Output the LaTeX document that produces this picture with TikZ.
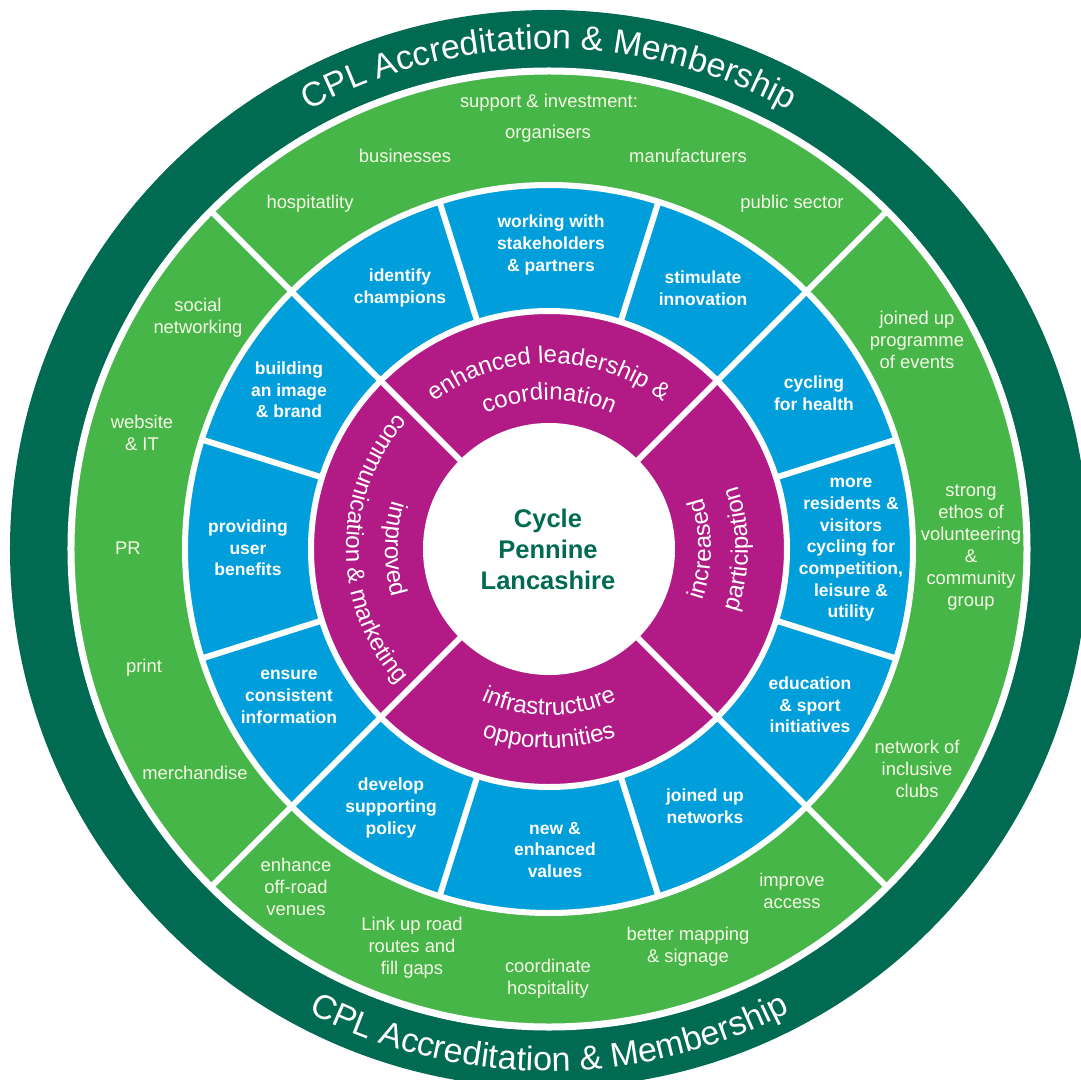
\documentclass[tikz,border=0pt]{standalone}
\usepackage{fontspec}
\setmainfont{Liberation Sans}
\usetikzlibrary{decorations.text}
\definecolor{ringdark}{RGB}{0,106,82}
\definecolor{ringgreen}{RGB}{70,182,73}
\definecolor{ringblue}{RGB}{0,158,219}
\definecolor{ringmag}{RGB}{178,27,134}
\definecolor{greentext}{RGB}{246,248,230}
\begin{document}
\begin{tikzpicture}[x=1pt,y=1pt,
  greenlbl/.style={text=greentext, align=center, inner sep=0pt,
    font=\fontsize{18.4}{22}\selectfont},
  bluelbl/.style={text=white, align=center, inner sep=0pt,
    font=\fontsize{17.5}{21.7}\selectfont\bfseries},
  divider/.style={white, line width=6pt},
  arctext/.style={decorate, decoration={text along path, text align=center, text={#1}}},
]
\useasboundingbox (-549,-530) rectangle (532,549);
\clip (-549,-530) rectangle (532,549);
\fill[white] (-549,-530) rectangle (532,549);

% concentric rings
\fill[ringdark]  (0,0) circle[radius=539pt];
\fill[ringgreen] (0,0) circle[radius=478pt];
\fill[ringblue]  (0,0) circle[radius=364pt];
\fill[ringmag]   (0,0) circle[radius=238pt];
\fill[white]     (0,0) circle[radius=126pt];
\draw[white, line width=7pt] (0,0) circle[radius=478pt];
\draw[divider] (0,0) circle[radius=364pt];
\draw[divider] (0,0) circle[radius=238pt];

% quadrant dividers and the blue sector dividers
\foreach \a in {45,135,225,315}
  \draw[divider] (\a:126pt) -- (\a:481pt);
\foreach \a in {17.5,72.5,107.5,162.5,197.5,252.5,287.5,342.5}
  \draw[divider] (\a:238pt) -- (\a:364pt);

% outer ring titles
\path[arctext={|\fontsize{34}{34}\selectfont\color{white}|CPL Accreditation {\&} Membership}]
  (150:500pt) arc[start angle=150, end angle=30, radius=500pt];
\path[arctext={|\fontsize{34}{34}\selectfont\color{white}|CPL Accreditation {\&} Membership}]
  (210:522pt) arc[start angle=210, end angle=330, radius=522pt];

% inner (magenta) ring titles
\path[arctext={|\fontsize{24}{24}\selectfont\color{white}|enhanced leadership {\&}}]
  (175:186pt) arc[start angle=175, end angle=5, radius=186pt];
\path[arctext={|\fontsize{24}{24}\selectfont\color{white}|coordination}]
  (175:149pt) arc[start angle=175, end angle=5, radius=149pt];
\path[arctext={|\fontsize{24}{24}\selectfont\color{white}|infrastructure}]
  (185:166pt) arc[start angle=185, end angle=355, radius=166pt];
\path[arctext={|\fontsize{24}{24}\selectfont\color{white}|opportunities}]
  (185:199pt) arc[start angle=185, end angle=355, radius=199pt];
\path[arctext={|\fontsize{24}{24}\selectfont\color{white}|increased}]
  (-85:162pt) arc[start angle=-85, end angle=85, radius=162pt];
\path[arctext={|\fontsize{24}{24}\selectfont\color{white}|participation}]
  (-85:199pt) arc[start angle=-85, end angle=85, radius=199pt];
\path[arctext={|\fontsize{24}{24}\selectfont\color{white}|improved}]
  (95:164pt) arc[start angle=95, end angle=265, radius=164pt];
\path[arctext={|\fontsize{24}{24}\selectfont\color{white}|communication {\&} marketing}]
  (95:203pt) arc[start angle=95, end angle=265, radius=203pt];

% hub
\node[text=ringdark, align=center, inner sep=0pt,
  font=\fontsize{25.5}{31}\selectfont\bfseries] (hub) at (-1,0) {Cycle\\Pennine\\Lancashire};

% blue ring labels
\node[bluelbl] (b-champ)  at (-149,261) {identify\\champions};
\node[bluelbl] (b-stake)  at (2,304)    {working with\\stakeholders\\\& partners};
\node[bluelbl] (b-innov)  at (154,261)  {stimulate\\innovation};
\node[bluelbl] (b-brand)  at (-260,159) {building\\an image\\\& brand};
\node[bluelbl] (b-health) at (265,156)  {cycling\\for health};
\node[bluelbl] (b-user)   at (-301,1)   {providing\\user\\benefits};
\node[bluelbl] (b-more)   at (302,-1)   {more\\residents \&\\visitors\\cycling for\\competition,\\leisure \&\\utility};
\node[bluelbl] (b-info)   at (-260,-148){ensure\\consistent\\information};
\node[bluelbl] (b-edu)    at (261,-156) {education\\\& sport\\initiatives};
\node[bluelbl] (b-policy) at (-158,-259){develop\\supporting\\policy};
\node[bluelbl] (b-values) at (6,-301)   {new \&\\enhanced\\values};
\node[bluelbl] (b-net)    at (156,-257) {joined up\\networks};

% green ring labels
\node[greenlbl] (g-support) at (0,446)     {support \& investment:};
\node[greenlbl] (g-org)     at (-1,415)    {organisers};
\node[greenlbl] (g-bus)     at (-144,393)  {businesses};
\node[greenlbl] (g-man)     at (139,393)   {manufacturers};
\node[greenlbl] (g-hosp)    at (-239,345)  {hospitatlity};
\node[greenlbl] (g-public)  at (243,345)   {public sector};
\node[greenlbl] (g-social)  at (-351,231)  {social\\networking};
\node[greenlbl] (g-web)     at (-407,116)  {website\\\& IT};
\node[greenlbl] (g-pr)      at (-421,1)    {PR};
\node[greenlbl] (g-print)   at (-405,-119) {print};
\node[greenlbl] (g-merch)   at (-354,-224) {merchandise};
\node[greenlbl] (g-events)  at (368,209)   {joined up\\programme\\of events};
\node[greenlbl] (g-ethos)   at (422,2)     {strong\\ethos of\\volunteering\\\&\\community\\group};
\node[greenlbl] (g-clubs)   at (368,-220)  {network of\\inclusive\\clubs};
\node[greenlbl] (g-offroad) at (-253,-338) {enhance\\off-road\\venues};
\node[greenlbl] (g-link)    at (-137,-399) {Link up road\\routes and\\fill gaps};
\node[greenlbl] (g-coord)   at (-1,-430)   {coordinate\\hospitality};
\node[greenlbl] (g-map)     at (139,-398)  {better mapping\\\& signage};
\node[greenlbl] (g-access)  at (243,-342)  {improve\\access};
\end{tikzpicture}
\end{document}
